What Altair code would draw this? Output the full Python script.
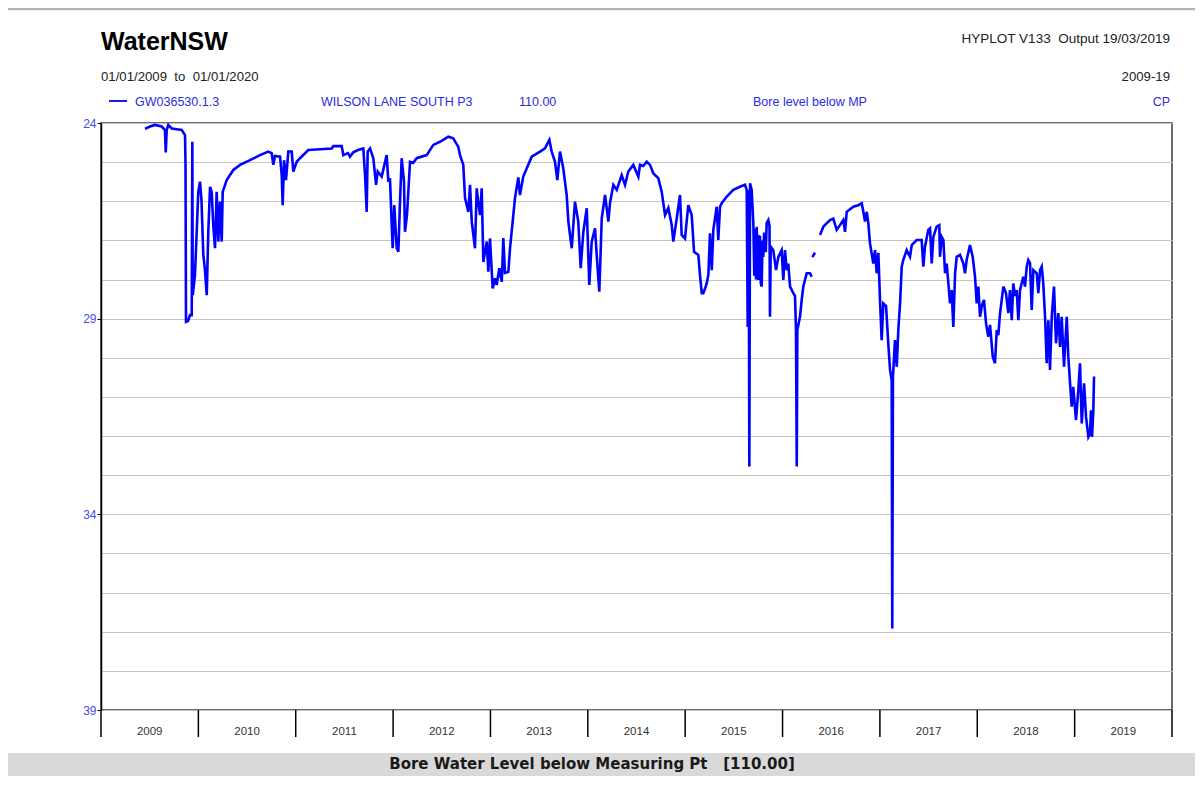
import altair as alt
import pandas as pd

# Bore water level below measuring point (m); x given as decimal year
seg1_year = [
    2009.452, 2009.503, 2009.555, 2009.623, 2009.657, 2009.665, 2009.675, 2009.691, 2009.726, 2009.829,
    2009.863, 2009.868, 2009.873, 2009.894, 2009.914, 2009.932, 2009.938, 2009.942, 2009.965, 2009.983,
    2009.999, 2010.017, 2010.032, 2010.051, 2010.068, 2010.086, 2010.102, 2010.120, 2010.137, 2010.153,
    2010.171, 2010.188, 2010.205, 2010.222, 2010.240, 2010.250, 2010.291, 2010.359, 2010.428, 2010.530,
    2010.633, 2010.718, 2010.753, 2010.770, 2010.787, 2010.839, 2010.856, 2010.866, 2010.880, 2010.900,
    2010.924, 2010.959, 2010.975, 2011.010, 2011.044, 2011.129, 2011.249, 2011.370, 2011.386, 2011.472,
    2011.489, 2011.537, 2011.557, 2011.591, 2011.640, 2011.694, 2011.712, 2011.729, 2011.739, 2011.763,
    2011.797, 2011.825, 2011.842, 2011.883, 2011.934, 2011.951, 2011.968, 2011.986, 2011.996, 2012.012,
    2012.037, 2012.054, 2012.071, 2012.088, 2012.112, 2012.122, 2012.143, 2012.174, 2012.205, 2012.243,
    2012.345, 2012.413, 2012.482, 2012.567, 2012.618, 2012.670, 2012.687, 2012.721, 2012.739, 2012.773,
    2012.790, 2012.808, 2012.841, 2012.859, 2012.872, 2012.893, 2012.910, 2012.927, 2012.962, 2012.978,
    2012.995, 2013.023, 2013.047, 2013.064, 2013.091, 2013.116, 2013.132, 2013.149, 2013.184, 2013.201,
    2013.235, 2013.252, 2013.286, 2013.303, 2013.337, 2013.372, 2013.424, 2013.509, 2013.560, 2013.605,
    2013.629, 2013.663, 2013.687, 2013.714, 2013.748, 2013.783, 2013.800, 2013.835, 2013.868, 2013.902,
    2013.927, 2013.954, 2013.989, 2014.015, 2014.040, 2014.074, 2014.091, 2014.118, 2014.143, 2014.177,
    2014.211, 2014.228, 2014.262, 2014.297, 2014.348, 2014.382, 2014.416, 2014.467, 2014.519, 2014.536,
    2014.570, 2014.605, 2014.639, 2014.673, 2014.724, 2014.759, 2014.793, 2014.827, 2014.862, 2014.878,
    2014.913, 2014.947, 2014.964, 2014.998, 2015.032, 2015.067, 2015.091, 2015.135, 2015.152, 2015.170,
    2015.186, 2015.204, 2015.221, 2015.238, 2015.255, 2015.273, 2015.289, 2015.324, 2015.340, 2015.358,
    2015.375, 2015.427, 2015.494, 2015.563, 2015.614, 2015.632, 2015.642, 2015.652, 2015.659, 2015.666,
    2015.683, 2015.700, 2015.710, 2015.718, 2015.727, 2015.735, 2015.743, 2015.751, 2015.759, 2015.768,
    2015.777, 2015.786, 2015.794, 2015.802, 2015.811, 2015.820, 2015.828, 2015.837, 2015.854,
    2015.866, 2015.871, 2015.879, 2015.905, 2015.933, 2015.957, 2015.991, 2016.008, 2016.025, 2016.043,
    2016.059, 2016.077, 2016.111, 2016.128, 2016.138, 2016.146, 2016.152, 2016.179, 2016.197, 2016.213,
    2016.248, 2016.282, 2016.300,
]
seg1_level = [
    24.15, 24.09, 24.05, 24.09, 24.18, 24.75, 24.18, 24.05, 24.14, 24.18,
    24.31, 25.07, 29.08, 29.06, 28.91, 28.91, 24.48, 28.40, 27.89, 26.78,
    25.76, 25.50, 25.97, 27.37, 27.76, 28.40, 26.78, 25.63, 25.76, 26.61,
    27.20, 25.76, 27.03, 26.01, 27.03, 25.76, 25.46, 25.20, 25.07, 24.95,
    24.82, 24.73, 24.77, 25.07, 24.84, 24.86, 25.33, 26.10, 24.95, 25.46,
    24.73, 24.73, 25.24, 24.99, 24.90, 24.69, 24.67, 24.65, 24.59, 24.59,
    24.82, 24.77, 24.86, 24.75, 24.69, 24.65, 25.33, 26.27, 24.73, 24.65,
    24.90, 25.58, 25.24, 25.37, 24.82, 25.50, 25.41, 26.61, 27.20, 26.10,
    27.20, 27.29, 26.01, 24.90, 25.50, 26.78, 26.35, 24.99, 25.02, 24.90,
    24.82, 24.56, 24.48, 24.35, 24.39, 24.61, 24.82, 25.07, 25.92, 26.27,
    25.58, 26.52, 27.20, 25.67, 25.97, 26.35, 25.67, 27.55, 27.03, 27.80,
    26.95, 28.23, 27.97, 28.14, 27.71, 28.06, 26.94, 27.83, 27.80, 27.20,
    26.35, 25.92, 25.39, 25.84, 25.37, 25.16, 24.86, 24.73, 24.65, 24.43,
    24.73, 24.99, 25.46, 24.73, 25.16, 25.84, 26.52, 27.20, 26.01, 26.52,
    27.71, 26.78, 26.18, 28.14, 27.03, 26.69, 27.37, 28.31, 26.44, 25.84,
    26.52, 26.04, 25.58, 25.71, 25.33, 25.58, 25.24, 25.07, 25.37, 25.07,
    25.10, 24.99, 25.07, 25.29, 25.41, 25.76, 26.35, 26.17, 26.61, 27.03,
    26.44, 25.84, 26.86, 26.95, 26.10, 26.35, 27.29, 27.37, 27.88, 28.35,
    28.35, 28.23, 28.10, 27.88, 26.82, 27.76, 26.73, 26.14, 26.99, 26.14,
    26.05, 25.88, 25.71, 25.63, 25.58, 25.71, 29.21, 25.71, 32.78, 25.54,
    25.71, 26.56, 27.90, 26.70, 28.00, 26.65, 27.70, 28.01, 26.90, 26.91,
    28.10, 28.18, 27.00, 27.42, 26.80, 26.91, 27.30, 26.56, 26.48,
    26.63, 28.95, 27.16, 27.25, 27.76, 27.42, 27.25, 28.01, 27.25, 27.76,
    27.59, 28.18, 28.35, 28.42, 29.29, 32.78, 29.29, 28.95, 28.52, 28.18,
    27.84, 27.84, 27.93,
]
seg2_year = [2016.306, 2016.333]
seg2_level = [27.43, 27.31]
seg3_year = [
    2016.385, 2016.419, 2016.454, 2016.488, 2016.521, 2016.556, 2016.590, 2016.624, 2016.642, 2016.659,
    2016.727, 2016.778, 2016.813, 2016.830, 2016.847, 2016.865, 2016.881, 2016.898, 2016.932, 2016.950,
    2016.967, 2016.984, 2017.001, 2017.018, 2017.035, 2017.063, 2017.086, 2017.104, 2017.121, 2017.127,
    2017.134, 2017.155, 2017.173, 2017.189, 2017.207, 2017.224, 2017.240, 2017.275, 2017.309, 2017.327,
    2017.378, 2017.429, 2017.446, 2017.463, 2017.497, 2017.515, 2017.532, 2017.549, 2017.583, 2017.610,
    2017.617, 2017.635, 2017.652, 2017.669, 2017.686, 2017.703, 2017.720, 2017.737, 2017.754, 2017.772,
    2017.789, 2017.823, 2017.857, 2017.874, 2017.891, 2017.925, 2017.953, 2017.977, 2017.994, 2018.011,
    2018.028, 2018.049, 2018.069, 2018.090, 2018.113, 2018.131, 2018.159, 2018.182, 2018.200, 2018.216,
    2018.234, 2018.251, 2018.268, 2018.295, 2018.319, 2018.336, 2018.354, 2018.370, 2018.388, 2018.405,
    2018.422, 2018.439, 2018.457, 2018.473, 2018.490, 2018.508, 2018.524, 2018.542, 2018.559, 2018.576,
    2018.611, 2018.627, 2018.645, 2018.662, 2018.678, 2018.696, 2018.713, 2018.730, 2018.747, 2018.765,
    2018.788, 2018.809, 2018.832, 2018.850, 2018.867, 2018.891, 2018.919, 2018.935, 2018.953, 2018.970,
    2018.986, 2019.014, 2019.038, 2019.055, 2019.073, 2019.097, 2019.117, 2019.141, 2019.158, 2019.168,
    2019.179, 2019.192, 2019.199,
]
seg3_level = [
    26.86, 26.65, 26.56, 26.48, 26.44, 26.73, 26.61, 26.48, 26.78, 26.27,
    26.14, 26.10, 26.05, 26.27, 26.52, 26.27, 26.56, 27.07, 27.59, 27.25,
    27.84, 27.32, 28.52, 29.55, 28.61, 28.68, 29.63, 30.31, 30.57, 36.92,
    30.48, 29.55, 30.23, 29.29, 28.61, 27.67, 27.50, 27.25, 27.42, 27.12,
    26.99, 26.99, 27.67, 27.16, 26.73, 26.69, 27.59, 26.91, 26.65, 26.61,
    27.42, 26.91, 26.99, 27.84, 27.59, 28.10, 28.61, 28.27, 29.21, 27.84,
    27.42, 27.37, 27.59, 27.84, 27.50, 27.12, 27.42, 27.93, 28.61, 28.18,
    28.95, 28.65, 28.52, 29.12, 29.46, 29.16, 29.97, 30.14, 29.29, 29.42,
    28.86, 28.52, 28.18, 28.35, 28.86, 28.27, 29.04, 28.10, 28.42, 28.27,
    29.04, 28.27, 28.09, 27.93, 28.18, 27.67, 27.50, 27.58, 28.78, 27.76,
    27.84, 28.35, 27.76, 27.67, 28.10, 28.95, 30.14, 29.04, 30.31, 28.95,
    28.18, 29.63, 28.86, 29.72, 28.95, 30.23, 28.95, 29.97, 30.65, 31.25,
    30.74, 31.59, 30.82, 30.14, 31.68, 30.65, 31.51, 32.02, 31.93, 31.34,
    32.02, 31.34, 30.48,
]

year_labels = [2009, 2010, 2011, 2012, 2013, 2014, 2015, 2016, 2017, 2018, 2019]
year_bounds = list(range(2009, 2021))
y_grid = list(range(24, 40))

frames = []
for name, xs, ys in [("a", seg1_year, seg1_level), ("b", seg2_year, seg2_level), ("c", seg3_year, seg3_level)]:
    frames.append(pd.DataFrame({"year": xs, "level": ys, "seg": name}))
df = pd.concat(frames, ignore_index=True)

W, H = 1071, 587
FONT = "Liberation Sans"
BLUE_TXT = "#2b2be0"

xscale = alt.Scale(domain=[2009, 2020], nice=False, zero=False)
yscale = alt.Scale(domain=[24, 39], reverse=True, nice=False, zero=False)

line = alt.Chart(df).mark_line(color="#0000ff", strokeWidth=2.6).encode(
    x=alt.X("year:Q", scale=xscale, axis=alt.Axis(
        values=year_bounds, grid=True, gridColor="#c4c4c4", gridWidth=1.2,
        labels=False, ticks=False, domainColor="#000000", domainWidth=1.5, title=None)),
    y=alt.Y("level:Q", scale=yscale, axis=alt.Axis(
        values=y_grid, grid=True, gridColor="#c4c4c4", gridWidth=1.2,
        labelExpr="datum.value % 5 == 4 ? datum.label : ''",
        labelColor="#4a4ae8", labelFont=FONT, labelFontSize=12, labelPadding=1,
        tickSize=4, tickColor={"condition": {"test": "datum.value % 5 == 4", "value": "#000000"}, "value": "transparent"},
        domainColor="#000000", domainWidth=1.5, title=None)),
    detail="seg:N",
)

dummy = pd.DataFrame({"k": [0]})

ticks = alt.Chart(pd.DataFrame({"year": year_bounds})).mark_rule(color="#000000", strokeWidth=1.5).encode(
    x=alt.X("year:Q", scale=xscale, axis=None),
    y=alt.value(H), y2=alt.value(H + 27),
)

ylab = alt.Chart(pd.DataFrame({"yr": year_labels})).transform_calculate(
    mid="datum.yr + 0.5", lab="'' + datum.yr"
).mark_text(font=FONT, fontSize=11.5, color="#333333", baseline="middle").encode(
    x=alt.X("mid:Q", scale=xscale, axis=None),
    y=alt.value(H + 22),
    text="lab:N",
)

def label(text, x, y, size=12.5, color="#222222", align="left", weight="normal", font=FONT, baseline="alphabetic"):
    return alt.Chart(dummy).mark_text(
        text=text, align=align, baseline=baseline, fontSize=size, color=color,
        fontWeight=weight, font=font,
    ).encode(x=alt.value(x), y=alt.value(y))

top_line = alt.Chart(dummy).mark_rule(color="#b4b4b4", strokeWidth=2.5).encode(
    x=alt.value(-101), x2=alt.value(1100), y=alt.value(-114))
bar = alt.Chart(dummy).mark_rect(color="#d9d9d9").encode(
    x=alt.value(-101), x2=alt.value(1100), y=alt.value(630), y2=alt.value(665))
legend_line = alt.Chart(dummy).mark_rule(color="#1a1aee", strokeWidth=2).encode(
    x=alt.value(8), x2=alt.value(26), y=alt.value(-22))

texts = [
    label("WaterNSW", 0, -73, size=25, color="#000000", weight="bold"),
    label("HYPLOT V133\u00a0\u00a0Output 19/03/2019", 1069, -80, size=13.5, align="right"),
    label("01/01/2009\u00a0\u00a0to\u00a0\u00a001/01/2020", 0, -42, size=13.2),
    label("2009-19", 1069, -42, size=13.2, align="right"),
    label("GW036530.1.3", 34, -17, color=BLUE_TXT),
    label("WILSON LANE SOUTH P3", 220, -17, color=BLUE_TXT),
    label("110.00", 418, -17, color=BLUE_TXT),
    label("Bore level below MP", 652, -17, color=BLUE_TXT),
    label("CP", 1069, -17, color=BLUE_TXT, align="right"),
    label("Bore Water Level below Measuring Pt\u00a0\u00a0\u00a0[110.00]", 491, 641, size=15,
          color="#1a1a1a", weight="bold", font="DejaVu Sans", align="center", baseline="middle"),
]

chart = alt.layer(top_line, bar, line, ticks, ylab, legend_line, *texts).properties(
    width=W, height=H,
    autosize=alt.AutoSizeParams(type="none"),
    padding={"left": 93, "top": 115, "right": 23, "bottom": 66},
    background="#ffffff",
).configure_view(stroke="#3a3a3a", strokeWidth=1.5)

chart.save("out.html", embed_options={"renderer": "svg", "actions": False})
